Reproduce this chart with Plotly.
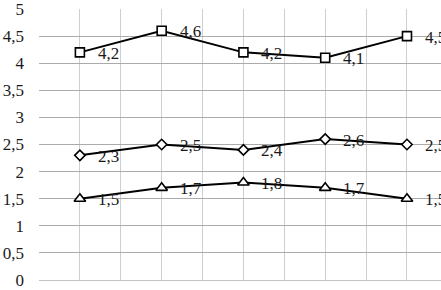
import plotly.graph_objects as go

categories = [0, 1, 2, 3, 4]
series_square = [4.2, 4.6, 4.2, 4.1, 4.5]
series_diamond = [2.3, 2.5, 2.4, 2.6, 2.5]
series_triangle = [1.5, 1.7, 1.8, 1.7, 1.5]
y_ticks = [0, 0.5, 1, 1.5, 2, 2.5, 3, 3.5, 4, 4.5, 5]
y_tick_labels = ["0", "0,5", "1", "1,5", "2", "2,5", "3", "3,5", "4", "4,5", "5"]

FONT = "Liberation Serif"

def fmt(v):
    return ("%g" % v).replace(".", ",")

fig = go.Figure()
specs = [
    (series_square, "square", 9),
    (series_diamond, "diamond", 8),
    (series_triangle, "triangle-up", 10),
]
annotations = []
for vals, sym, size in specs:
    fig.add_trace(go.Scatter(
        x=categories, y=vals, mode="lines+markers",
        line=dict(color="black", width=2),
        marker=dict(symbol=sym, size=size, color="white",
                    line=dict(color="black", width=1.6)),
        showlegend=False, hoverinfo="skip", cliponaxis=False,
    ))
    for xv, yv in zip(categories, vals):
        annotations.append(dict(
            x=xv, y=yv, xref="x", yref="y", text=fmt(yv),
            showarrow=False, xanchor="left", yanchor="middle",
            xshift=16, yshift=-1,
            font=dict(family=FONT, size=17, color="#1a1a1a"),
        ))

fig.update_layout(
    width=441, height=290,
    margin=dict(l=39, r=0, t=6, b=7),
    paper_bgcolor="white", plot_bgcolor="white",
    font=dict(family=FONT),
    annotations=annotations,
    xaxis=dict(
        range=[-0.5, 4.416], tickmode="linear", tick0=-0.5, dtick=0.5,
        showticklabels=False, showgrid=True, gridcolor="#cfcfcf", gridwidth=1,
        zeroline=False, showline=True, linecolor="#c4c4c4", linewidth=1,
        fixedrange=True,
    ),
    yaxis=dict(
        range=[0, 5], tickmode="array", tickvals=y_ticks, ticktext=y_tick_labels,
        showgrid=True, gridcolor="#ababab", gridwidth=1,
        zeroline=True, zerolinecolor="#ababab", zerolinewidth=1,
        showline=False, ticklabelstandoff=14, ticklabeloverflow="allow",
        tickfont=dict(family=FONT, size=17, color="#1a1a1a"),
        fixedrange=True,
    ),
)

fig.write_html(
    "out.html",
    config={"displayModeBar": False},
    post_script="document.body.style.margin='0';document.body.style.overflow='hidden';",
)
